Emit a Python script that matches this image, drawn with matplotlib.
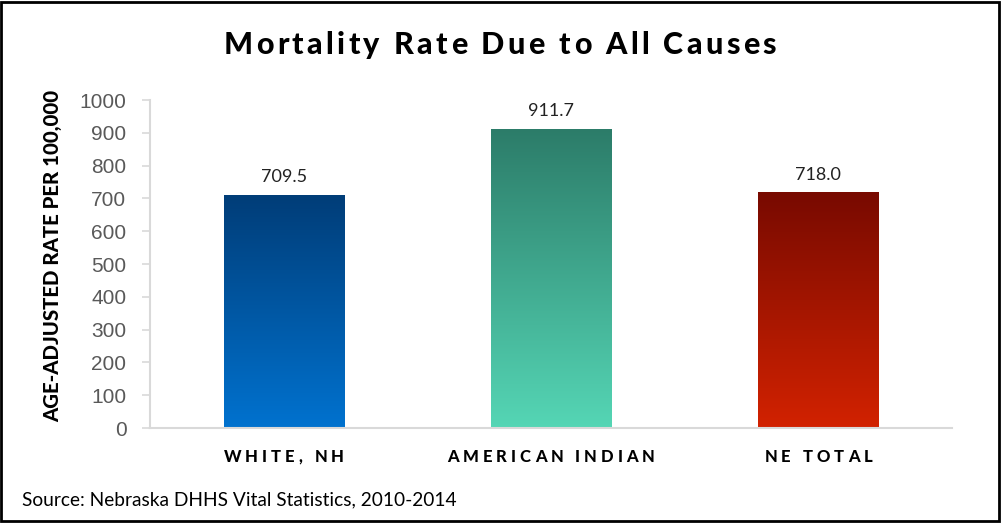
import numpy as np
import matplotlib
matplotlib.use("Agg")
import matplotlib.pyplot as plt
from matplotlib.colors import LinearSegmentedColormap
from matplotlib.font_manager import FontProperties
from matplotlib.patches import Rectangle

# Data
categories = ["WHITE, NH", "AMERICAN INDIAN", "NE TOTAL"]
rates = [709.5, 911.7, 718.0]
value_labels = ["709.5", "911.7", "718.0"]
yticks = [0, 100, 200, 300, 400, 500, 600, 700, 800, 900, 1000]

# Gradient colours (top, bottom) per bar
bar_gradients = [("#003d78", "#0072cf"),
                 ("#2c7c69", "#55d6b5"),
                 ("#780a00", "#d22200")]

W, H, DPI = 1001, 523, 100
fig = plt.figure(figsize=(W / DPI, H / DPI), dpi=DPI)
fig.patch.set_facecolor("white")

ax = fig.add_axes([150 / W, 1 - 428 / H, (952 - 150) / W, (428 - 100) / H])
x = np.arange(len(categories))
bars = ax.bar(x, rates, width=0.45, color="none", edgecolor="none", zorder=2)

# Vertical gradient inside each bar
grad = np.linspace(0, 1, 256).reshape(-1, 1)
for b, (top, bottom) in zip(bars, bar_gradients):
    cmap = LinearSegmentedColormap.from_list("g", [bottom, top])
    x0, w, h = b.get_x(), b.get_width(), b.get_height()
    im = ax.imshow(grad, cmap=cmap, aspect="auto", origin="lower",
                   extent=[x0, x0 + w, 0, h], zorder=2)
    im.set_clip_path(b)

ax.set_xlim(-0.5, len(categories) - 0.5)
ax.set_ylim(0, 1000)
ax.set_yticks(yticks)
ax.set_yticklabels([str(t) for t in yticks], fontsize=15, color="#595959",
                   family="Liberation Sans")
ax.set_xticks([])
for s in ["top", "right"]:
    ax.spines[s].set_visible(False)
for s in ["left", "bottom"]:
    ax.spines[s].set_color("#d9d9d9")
    ax.spines[s].set_linewidth(1.5)
ax.tick_params(axis="y", length=6, width=1.2, color="#d9d9d9", pad=11)

# Value labels above bars
for xi, v, lab in zip(x, rates, value_labels):
    ax.text(xi, v + 30, lab, ha="center", va="bottom", fontsize=13,
            family="Lato", color="#222222")

renderer = fig.canvas.get_renderer()


def spaced_text(s, cx, base_y, prop, track, color="black"):
    """Draw s centred at cx (pixels) with extra letter spacing."""
    ref = "|"
    wref = renderer.get_text_width_height_descent(ref, prop, ismath=False)[0]
    pos = []
    for i in range(len(s)):
        if i == 0:
            pos.append(0.0)
        else:
            w = renderer.get_text_width_height_descent(s[:i] + ref, prop, ismath=False)[0] - wref
            pos.append(w + i * track)
    total = renderer.get_text_width_height_descent(s, prop, ismath=False)[0] + (len(s) - 1) * track
    start = cx - total / 2
    for ch, p in zip(s, pos):
        if ch == " ":
            continue
        fig.text((start + p) / W, 1 - base_y / H, ch, fontproperties=prop,
                 color=color, ha="left", va="baseline")


title_prop = FontProperties(family="Lato", weight="black", size=22)
spaced_text("Mortality Rate Due to All Causes", 500, 54, title_prop, 3.4)

cat_prop = FontProperties(family="Lato", weight="black", size=12)
for xi, c in zip(x, categories):
    cx = ax.transData.transform((xi, 0))[0]
    spaced_text(c, cx, 462, cat_prop, 4.0)

fig.text(53 / W, 1 - 256 / H, "AGE-ADJUSTED RATE PER 100,000", rotation=90,
         ha="center", va="center", fontsize=14.7, weight="black", family="Lato")

fig.text(22 / W, 1 - 500 / H, "Source: Nebraska DHHS Vital Statistics, 2010-2014",
         ha="left", va="center", fontsize=13.8, family="Lato", color="black")

# Outer frame
fig.add_artist(Rectangle((1 / W, 2 / H), (W - 3) / W, (H - 4) / H,
                         transform=fig.transFigure, fill=False,
                         edgecolor="black", linewidth=2))

fig.savefig("out.png", dpi=DPI, facecolor="white")
